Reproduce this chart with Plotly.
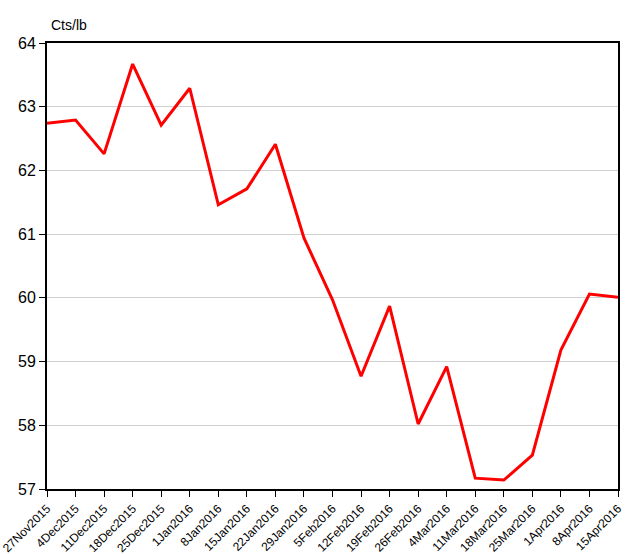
import plotly.graph_objects as go

fechas = ["27Nov2015", "4Dec2015", "11Dec2015", "18Dec2015", "25Dec2015", "1Jan2016",
          "8Jan2016", "15Jan2016", "22Jan2016", "29Jan2016", "5Feb2016", "12Feb2016",
          "19Feb2016", "26Feb2016", "4Mar2016", "11Mar2016", "18Mar2016", "25Mar2016",
          "1Apr2016", "8Apr2016", "15Apr2016"]
precios = [62.74, 62.79, 62.26, 63.67, 62.71, 63.29, 61.46, 61.71, 62.41, 60.94, 59.97,
           58.77, 59.87, 58.02, 58.92, 57.17, 57.14, 57.53, 59.18, 60.06, 60.01]
y_ticks = [57, 58, 59, 60, 61, 62, 63, 64]

fig = go.Figure()
fig.add_trace(go.Scatter(
    x=list(range(len(fechas))), y=precios, mode="lines",
    line=dict(color="#ff0000", width=3), cliponaxis=False
))

fig.update_layout(
    width=644, height=554,
    margin=dict(l=47, r=26, t=43, b=65),
    paper_bgcolor="white", plot_bgcolor="white",
    showlegend=False,
    font=dict(family="Liberation Sans, Arial, sans-serif", color="black"),
    xaxis=dict(
        range=[0, len(fechas) - 1], automargin=False,
        tickmode="array", tickvals=list(range(len(fechas))), ticktext=fechas,
        tickangle=-45, tickfont=dict(size=12, color="black"),
        ticks="outside", ticklen=6, tickcolor="black",
        showline=True, linecolor="black", linewidth=2, mirror=True,
        showgrid=False, zeroline=False,
    ),
    yaxis=dict(
        range=[57, 64], automargin=False,
        tickmode="array", tickvals=y_ticks,
        tickfont=dict(size=16, color="black"),
        ticks="outside", ticklen=6, tickcolor="black",
        showline=True, linecolor="black", linewidth=2, mirror=True,
        showgrid=True, gridcolor="#d0d0d0", gridwidth=1, zeroline=False,
    ),
    annotations=[dict(
        text="Cts/lb", xref="paper", yref="paper", x=0, y=1, xshift=2, yshift=8,
        xanchor="left", yanchor="bottom", showarrow=False,
        font=dict(size=14, color="black"),
    )],
)

# quitar el margen por defecto del body para que el gráfico ocupe toda la ventana
fig.write_html("out.html", config={"displayModeBar": False},
               post_script="document.body.style.margin='0';")
